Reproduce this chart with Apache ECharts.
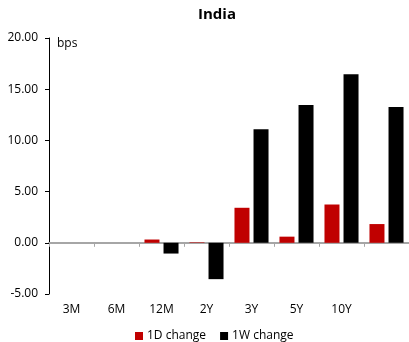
<!DOCTYPE html>
<html><head><meta charset="utf-8">
<script src="https://cdn.jsdelivr.net/npm/echarts@6/dist/echarts.min.js"></script>
<style>html,body{margin:0;padding:0;background:#fff}#c{width:409px;height:342px}</style>
</head><body><div id="c"></div>
<script>
var categories = ['3M','6M','12M','2Y','3Y','5Y','10Y',''];
var change1D = [0, 0, 0.32, 0.05, 3.42, 0.6, 3.74, 1.83];
var change1W = [0, 0, -1.05, -3.55, 11.1, 13.45, 16.45, 13.25];
var yTicks = {min: -5, max: 20, interval: 5};

var FONT = '"Open Sans", sans-serif';
var chart = echarts.init(document.getElementById('c'), null, {renderer: 'canvas'});
chart.setOption({
  animation: false,
  title: {text: 'India', left: 212, top: 2, textAlign: 'center',
    textStyle: {fontFamily: FONT, fontSize: 15, fontWeight: 'bold', color: '#000'}},
  graphic: [{type: 'text', left: 57, top: 38, style: {text: 'bps', fontFamily: FONT, fontSize: 12, fill: '#000'}}],
  legend: {top: 325, left: 130, itemWidth: 8, itemHeight: 8, itemGap: 14,
    icon: 'rect', textStyle: {fontFamily: FONT, fontSize: 12, color: '#000', padding: [0, 0, 0, -1]},
    data: ['1D change', '1W change']},
  grid: {left: 49, right: -2, top: 38, bottom: 48, containLabel: false},
  xAxis: [{
    type: 'category', data: categories,
    axisLine: {onZero: true, lineStyle: {color: '#a6a6a6', width: 2}},
    axisTick: {show: true, inside: false, length: 4, lineStyle: {color: '#a6a6a6'}},
    axisLabel: {show: false}, splitLine: {show: false}
  }, {
    type: 'category', data: categories, position: 'bottom',
    axisLine: {show: false}, axisTick: {show: false},
    axisLabel: {fontFamily: FONT, fontSize: 12, color: '#000', margin: 10}
  }],
  yAxis: {
    type: 'value', min: yTicks.min, max: yTicks.max, interval: yTicks.interval,
    axisLine: {show: true, lineStyle: {color: '#000', width: 1}},
    axisTick: {show: true, length: 4, lineStyle: {color: '#000'}},
    splitLine: {show: false},
    axisLabel: {fontFamily: FONT, fontSize: 12, color: '#000', margin: 11,
      formatter: function (v) { return v.toFixed(2); }}
  },
  series: [{
    name: '1D change', type: 'bar', data: change1D, barWidth: 15, barGap: '27%',
    itemStyle: {color: '#c00000'}
  }, {
    name: '1W change', type: 'bar', data: change1W, barWidth: 15,
    itemStyle: {color: '#000000'}
  }]
});
</script></body></html>
